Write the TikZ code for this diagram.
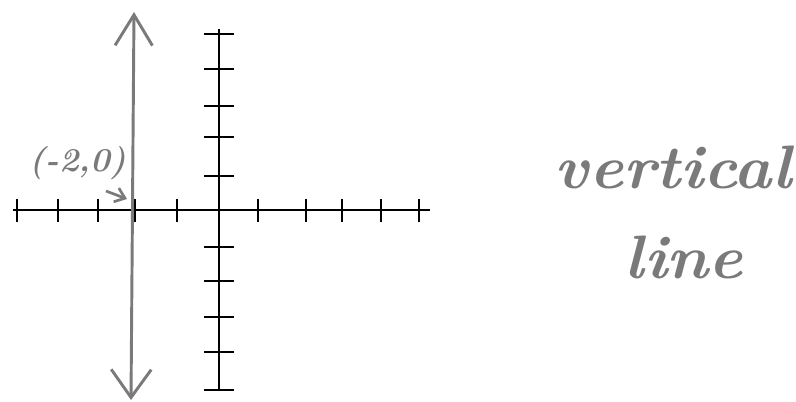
\documentclass[tikz,border=0pt]{standalone}
\usepackage{graphicx}
\usetikzlibrary{arrows.meta}
\definecolor{pen}{HTML}{7A7A7A}
\begin{document}
\begin{tikzpicture}[x=0.75pt,y=-0.75pt,
  axis/.style={black,line width=1.5pt},
  tickmark/.style={black,line width=1.4pt},
  penline/.style={pen,line width=2.2pt,line cap=round},
  hand/.style={pen,inner sep=0pt}]
\useasboundingbox (0,0) rectangle (796,402);
% axes
\coordinate (xl) at (13,210);
\coordinate (xr) at (430,210);
\coordinate (yt) at (219,29);
\coordinate (yb) at (219,391);
\draw[axis] (xl) -- (xr);
\draw[axis] (yt) -- (yb);
\foreach \x in {17,58,98,135,177,258,306,342,381,419}
  \draw[tickmark] (\x,199) -- (\x,222);
\foreach \y in {34,69,106,137,176,247,281,317,352,390}
  \draw[tickmark] (204,\y) -- (234,\y);
% vertical line x=-2
\coordinate (gt) at (134,12);
\coordinate (gb) at (131,400);
\draw[penline,{Straight Barb[length=23pt,width=28pt]}-{Straight Barb[length=21pt,width=30pt]}] (gt) -- (gb);
% point label
\node[hand,font=\bfseries\itshape\fontsize{25}{25}\selectfont] (pt) at (78,163) {(-2,0)};
\coordinate (as) at (106,191);
\coordinate (ae) at (127,199);
\draw[pen,line width=2pt,-{Straight Barb[length=7pt,width=11pt]}] (as) -- (ae);
% text
\node[hand,font=\bfseries\itshape\fontsize{46}{50}\selectfont] (v) at (673,167) {\scalebox{1.05}[1]{vertical}};
\node[hand,font=\bfseries\itshape\fontsize{46}{50}\selectfont] (l) at (684,257) {\scalebox{1.05}[1]{line}};
\end{tikzpicture}
\end{document}
